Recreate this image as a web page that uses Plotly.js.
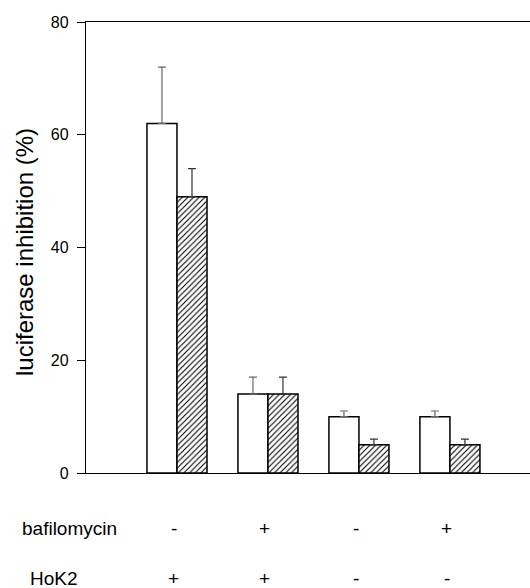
<!DOCTYPE html>
<html>
<head>
<meta charset="utf-8">
<script src="https://cdn.plot.ly/plotly-3.0.1.min.js"></script>
<style>html,body{margin:0;padding:0;background:#fff;}#chart{width:530px;height:588px;}</style>
</head>
<body>
<div id="chart"></div>
<script>
const groups = [0, 1, 2, 3];
const openValues = [62, 14, 10, 10];
const openErrors = [10, 3, 1, 1];
const hatchedValues = [49, 14, 5, 5];
const hatchedErrors = [5, 3, 1, 1];
const bafilomycin = ['-', '+', '-', '+'];
const hok2 = ['+', '+', '-', '-'];
const yTicks = [0, 20, 40, 60, 80];

const FONT = 'Arial, "Liberation Sans", Helvetica, sans-serif';

const traces = [
  {
    type: 'bar', x: groups, y: openValues,
    marker: {color: '#ffffff', line: {color: '#000000', width: 1.5}},
    error_y: {type: 'data', symmetric: false, array: openErrors, arrayminus: openErrors.map(() => 0),
              color: '#666666', thickness: 1.2, width: 4},
    hoverinfo: 'skip', showlegend: false
  },
  {
    type: 'bar', x: groups, y: hatchedValues,
    marker: {color: '#ffffff', line: {color: '#000000', width: 1.5},
             pattern: {shape: '/', fgcolor: '#000000', bgcolor: '#ffffff', size: 4, solidity: 0.28}},
    error_y: {type: 'data', symmetric: false, array: hatchedErrors, arrayminus: hatchedErrors.map(() => 0),
              color: '#333333', thickness: 1.2, width: 4},
    hoverinfo: 'skip', showlegend: false
  }
];

const annotations = [];
annotations.push({xref: 'paper', yref: 'paper', x: -0.1486, y: -0.124, xanchor: 'left', yanchor: 'middle',
  text: 'bafilomycin', showarrow: false, font: {family: FONT, size: 19, color: '#000'}});
annotations.push({xref: 'paper', yref: 'paper', x: -0.1306, y: -0.235, xanchor: 'left', yanchor: 'middle',
  text: 'HoK2', showarrow: false, font: {family: FONT, size: 19, color: '#000'}});
groups.forEach((g, i) => {
  annotations.push({xref: 'x', yref: 'paper', x: g, y: -0.124, xshift: -3, xanchor: 'center', yanchor: 'middle',
    text: bafilomycin[i], showarrow: false, font: {family: FONT, size: 19, color: '#000'}});
  annotations.push({xref: 'x', yref: 'paper', x: g, y: -0.235, xshift: -3, xanchor: 'center', yanchor: 'middle',
    text: hok2[i], showarrow: false, font: {family: FONT, size: 19, color: '#000'}});
});
annotations.push({xref: 'paper', yref: 'paper', x: -0.1396, y: 0.49, xanchor: 'center', yanchor: 'middle',
  textangle: -90, text: 'luciferase inhibition (%)', showarrow: false,
  font: {family: FONT, size: 24, color: '#000'}});

const layout = {
  width: 530, height: 588,
  margin: {l: 86, r: 0, t: 22, b: 115, pad: 0},
  paper_bgcolor: '#ffffff', plot_bgcolor: '#ffffff',
  barmode: 'group', bargap: 0.34, bargroupgap: 0,
  font: {family: FONT, color: '#000'},
  xaxis: {range: [-1, 3.88], showticklabels: false, ticks: '', showgrid: false, zeroline: false,
          showline: true, linecolor: '#000', linewidth: 1.2, mirror: true, fixedrange: true},
  yaxis: {range: [0, 80], tickvals: yTicks, ticktext: yTicks.map(String), ticks: 'outside', ticklen: 8,
          tickcolor: '#000', tickwidth: 1, showgrid: false, zeroline: false, showline: true,
          linecolor: '#000', linewidth: 1.2, tickfont: {family: FONT, size: 16, color: '#000'},
          ticklabelstandoff: 5, fixedrange: true},
  annotations: annotations
};

Plotly.newPlot('chart', traces, layout, {staticPlot: true, displayModeBar: false});
</script>
</body>
</html>
